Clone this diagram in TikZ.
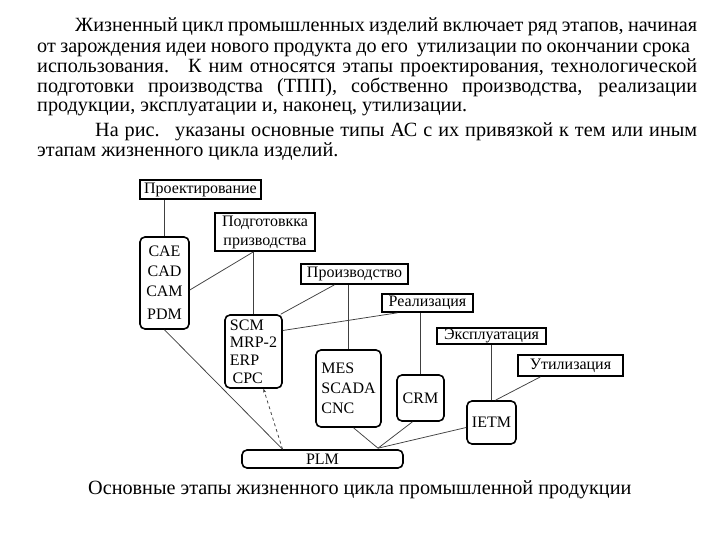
\documentclass[tikz,border=0pt]{standalone}
\usepackage{fontspec}
\setmainfont{Liberation Serif}
\usetikzlibrary{arrows.meta, calc}

\begin{document}
\begin{tikzpicture}[x=1pt, y=1pt,
    >={Stealth[length=4pt, width=3pt]},
    stagebox/.style={draw, line width=1.6pt, inner sep=0pt,
        font=\fontsize{16}{19}\selectfont},
    sysbox/.style={draw, line width=1.6pt, rounded corners=5pt, inner sep=0pt,
        font=\fontsize{16}{20}\selectfont},
    link/.style={line width=0.75pt, black!75},
    para/.style={anchor=base west, inner sep=0pt,
        font=\fontsize{20.2}{21}\selectfont}]

    % Fond et cadre
    \fill[white] (0,0) rectangle (720,540);
    \useasboundingbox (0,0) rectangle (720,540);

    % Texte au-dessus du schema
    \foreach \n/\xa/\y/\w/\txt in {
        1/75/508/622/{Жизненный цикл промышленных изделий включает ряд этапов, начиная},
        2/37/487/653/{от зарождения идеи нового продукта до его \ утилизации по окончании срока},
        3/37/467/660/{использования. \ К ним относятся этапы проектирования, технологической},
        4/37/447/660/{подготовки производства (ТПП), собственно производства, реализации},
        6/95/403/602/{На рис. \ указаны основные типы АС с их привязкой к тем или иным}}{
        \node[para] (l\n) at (\xa,\y) {\makebox[\w pt][s]{\txt}};
    }
    \node[para] (l5) at (37,428) {продукции, эксплуатации и, наконец, утилизации.};
    \node[para] (l7) at (37,383) {этапам жизненного цикла изделий.};

    % Etapes
    \node[stagebox, minimum width=121, minimum height=19] (proj) at (200.5,350.5) {Проектирование};
    \node[stagebox, minimum width=100, minimum height=38, align=center] (podg) at (265,308)
        {Подготовкка\\призводства};
    \node[stagebox, minimum width=107, minimum height=20] (proizv) at (354.5,266) {Производство};
    \node[stagebox, minimum width=91, minimum height=18] (real) at (427.5,237) {Реализация};
    \node[stagebox, minimum width=109, minimum height=16] (expl) at (491.5,204) {Эксплуатация};
    \node[stagebox, minimum width=105, minimum height=21] (util) at (570.5,174.5) {Утилизация};

    % Systemes
    \node[sysbox, minimum width=49, minimum height=92, align=center] (cae) at (164.5,257)
        {CAE\\CAD\\CAM\\[3pt]PDM};
    \node[sysbox, minimum width=57, minimum height=73, align=left,
        font=\fontsize{16}{17.7}\selectfont] (scm) at (253.5,188.5)
        {SCM\\MRP-2\\ERP\\\,CPC};
    \node[sysbox, minimum width=65, minimum height=77, align=left] (mes) at (348.5,151.5)
        {MES\\SCADA\\CNC};
    \node[sysbox, minimum width=47, minimum height=46] (crm) at (420.5,142) {CRM};
    \node[sysbox, minimum width=49, minimum height=43] (ietm) at (491.5,117.5) {IETM};
    \node[sysbox, minimum width=161, minimum height=18] (plm) at (322.5,81) {PLM};

    % Points de jonction sur PLM
    \coordinate (plmA) at ($(plm.north)+(-40,0)$);
    \coordinate (plmB) at ($(plm.north)+(55.5,1)$);
    \coordinate (podgB) at (scm.north |- podg.south);

    % Liaisons etapes - systemes
    \draw[link] (cae.north) -- (cae.north |- proj.south);
    \draw[link] (podgB) -- (scm.north);
    \draw[link] (podgB) -- ($(cae.east)+(0,-7)$);
    \draw[link] ($(proizv.south)+(-20,0)$) -- ($(scm.north east)+(-2,0)$);
    \draw[link] (mes.north) -- (mes.north |- proizv.south);
    \draw[link] ($(real.south)+(-30,0)$) -- ($(scm.east)+(0,21)$);
    \draw[link] (crm.north) -- (crm.north |- real.south);
    \draw[link] (ietm.north) -- (ietm.north |- expl.south);
    \draw[link] ($(util.south)+(-30,0)$) -- ($(ietm.north)+(4,0)$);

    % Liaisons vers PLM
    \draw[link] (cae.south) -- (plmA);
    \draw[link, dashed, ->] (plmA) -- ($(scm.south)+(10,0)$);
    \draw[link] ($(mes.south)+(5,0)$) -- (plmB);
    \draw[link] ($(crm.south)+(-8,0)$) -- (plmB);
    \draw[link] ($(ietm.west)+(0,-5)$) -- (plmB);

    % Legende
    \node[para] (cap) at (88,45) {Основные этапы жизненного цикла промышленной продукции};
\end{tikzpicture}
\end{document}
